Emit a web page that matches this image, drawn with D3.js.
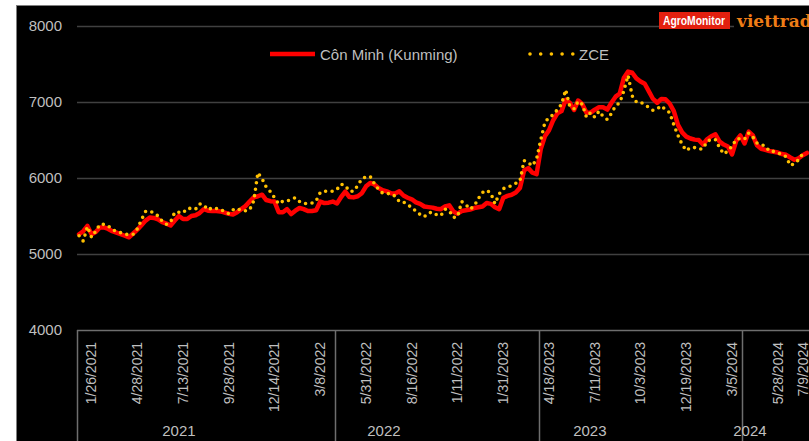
<!DOCTYPE html>
<html>
<head>
<meta charset="utf-8">
<script src="https://cdn.jsdelivr.net/npm/d3@7"></script>
<style>
  body { margin: 0; background: #ffffff; }
  svg { display: block; }
  text { font-family: "Liberation Sans", Arial, sans-serif; }
</style>
</head>
<body>
<div id="chart"></div>
<script>
// Côn Minh (Kunming) spot price vs ZCE futures, weekly
const kunming = [
  5260, 5300, 5370, 5260, 5290, 5350, 5350, 5330, 5300, 5280,
  5260, 5240, 5220, 5270, 5320, 5380, 5440, 5480, 5475, 5455,
  5420, 5400, 5375, 5440, 5500, 5460, 5460, 5500, 5510, 5540,
  5590, 5570, 5565, 5565, 5560, 5545, 5530, 5520, 5550, 5590,
  5630, 5690, 5745, 5760, 5780, 5710, 5695, 5690, 5550, 5550,
  5590, 5525, 5570, 5605, 5590, 5565, 5565, 5575, 5690, 5670,
  5675, 5690, 5665, 5750, 5820, 5750, 5745, 5760, 5800, 5890,
  5935, 5915, 5870, 5840, 5825, 5800, 5795, 5825, 5770, 5740,
  5720, 5680, 5660, 5625, 5617, 5610, 5595, 5590, 5625, 5640,
  5560, 5530, 5565, 5575, 5585, 5605, 5615, 5625, 5670, 5660,
  5615, 5590, 5740, 5765, 5780, 5810, 5870, 6100, 6130, 6070,
  6050, 6380, 6550, 6630, 6760, 6850, 6880, 7030, 6990, 6895,
  7020, 6970, 6860, 6860, 6900, 6930, 6930, 6900, 6990, 7070,
  7110, 7320, 7400, 7385, 7310, 7270, 7240, 7140, 7040, 6990,
  7040, 7035, 6980, 6880, 6700, 6600, 6545, 6520, 6505, 6500,
  6440, 6510, 6550, 6575, 6480, 6440, 6415, 6310, 6490, 6560,
  6455, 6610, 6560, 6430, 6385, 6370, 6355, 6345, 6335, 6315,
  6305, 6270, 6240, 6260, 6300, 6330
];

const zce = [
  5240, 5170, 5360, 5220, 5300, 5390, 5390, 5370, 5320, 5300,
  5280, 5265, 5250, 5260, 5330, 5450, 5560, 5565, 5540, 5500,
  5430, 5390, 5420, 5550, 5550, 5540, 5600, 5600, 5590, 5660,
  5645, 5580, 5610, 5600, 5590, 5555, 5530, 5580, 5600, 5570,
  5570, 5580, 5700, 6070, 5990, 5880, 5820, 5740, 5660, 5695,
  5695, 5720, 5740, 5690, 5665, 5665, 5670, 5700, 5810, 5826,
  5826, 5826, 5850, 5920, 5900, 5826, 5826, 5900, 5990, 6015,
  6020, 5926, 5850, 5800, 5795, 5795, 5760, 5690, 5685, 5640,
  5620, 5560, 5520, 5490, 5540, 5550, 5515, 5505, 5590, 5570,
  5480, 5490, 5690, 5650, 5590, 5630, 5730, 5810, 5840, 5800,
  5660, 5790, 5860, 5880, 5900, 5930, 5960, 6230, 6200, 6160,
  6250, 6500, 6730, 6800, 6830, 6900, 6970, 7160, 6940, 6910,
  7010, 6970, 6800, 6860, 6800, 6880, 6810, 6770, 6850, 6950,
  6990, 7150, 7350, 7080, 7000, 7000, 6960, 6930, 6890, 6910,
  6950, 6900, 6860, 6700, 6560, 6440, 6360, 6400, 6400, 6380,
  6385, 6480, 6510, 6505, 6400, 6315, 6355, 6420, 6510, 6520,
  6510, 6590, 6540, 6460, 6440, 6420, 6350, 6350, 6330, 6310,
  6280, 6165, 6190, 6240, 6320, 6330
];

// date labels shown on the axis, with the week (category) they sit on
const tickWeeks  = [3, 14, 25, 36, 47, 58, 69, 80, 91, 102, 113, 124, 135, 146, 157, 168, 174];
const tickLabels = ["1/26/2021", "4/28/2021", "7/13/2021", "9/28/2021", "12/14/2021", "3/8/2022",
                    "5/31/2022", "8/16/2022", "1/11/2022", "1/31/2023", "4/18/2023", "7/11/2023",
                    "10/3/2023", "12/19/2023", "3/5/2024", "5/28/2024", "7/9/2024"];

// year groups: first week of each group and the week its label is centred on
const years      = ["2021", "2022", "2023", "2024"];
const yearStart  = [0, 62, 111, 160];
const yearCenter = [24.5, 73.8, 123.3, 161.8];

const yTicks = [4000, 5000, 6000, 7000, 8000];

const W = 809, H = 441;
const margin = {top: 26, right: 0, bottom: 111, left: 77};
const nWeeks = kunming.length;

const svg = d3.select("#chart").append("svg")
    .attr("width", W)
    .attr("height", H);

// chart background
svg.append("rect")
    .attr("x", 16.5).attr("y", 5.5)
    .attr("width", W).attr("height", H)
    .attr("fill", "#000")
    .attr("stroke", "#7f7f7f")
    .attr("stroke-width", 1);

const x = d3.scaleBand()
    .domain(d3.range(nWeeks))
    .range([margin.left, W])
    .padding(0);

const y = d3.scaleLinear()
    .domain([4000, 8000])
    .range([H - margin.bottom, margin.top]);

const xc = i => x(i) + x.bandwidth() / 2;
// fractional category position (band scale only takes whole weeks)
const xAt = c => x(0) + c * x.step();

// gridlines + y labels
const yAxis = d3.axisLeft(y)
    .tickValues(yTicks)
    .tickSize(-(W - margin.left))
    .tickPadding(15)
    .tickFormat(d3.format("d"));

const gy = svg.append("g")
    .attr("transform", `translate(${margin.left},0)`)
    .call(yAxis);
gy.select(".domain").remove();
gy.selectAll(".tick line")
    .attr("stroke", d => d === 4000 ? "#6e6e6e" : "#404040")
    .attr("stroke-width", 1.5);
gy.selectAll(".tick text")
    .attr("fill", "#bfbfbf")
    .style("font-size", "15px");

// category axis box
const axisTop = y(4000);
const axisG = svg.append("g").attr("class", "x-axis");

axisG.selectAll(".sep")
    .data(yearStart)
    .enter()
    .append("line")
    .attr("class", "sep")
    .attr("x1", d => Math.round(x(d)) + 0.5)
    .attr("x2", d => Math.round(x(d)) + 0.5)
    .attr("y1", axisTop)
    .attr("y2", H)
    .attr("stroke", "#6e6e6e")
    .attr("stroke-width", 1.5);

axisG.selectAll(".date-label")
    .data(tickWeeks)
    .enter()
    .append("text")
    .attr("class", "date-label")
    .attr("transform", d => `translate(${xc(d)},${axisTop + 12}) rotate(-90)`)
    .attr("text-anchor", "end")
    .attr("dy", "0.35em")
    .attr("fill", "#bfbfbf")
    .style("font-size", "14px")
    .text((d, i) => tickLabels[i]);

axisG.selectAll(".year-label")
    .data(years)
    .enter()
    .append("text")
    .attr("class", "year-label")
    .attr("x", (d, i) => xAt(yearCenter[i]))
    .attr("y", 436)
    .attr("text-anchor", "middle")
    .attr("fill", "#bfbfbf")
    .style("font-size", "15px")
    .text(d => d);

// series
const line = d3.line()
    .x((d, i) => xc(i))
    .y(d => y(d));

svg.append("path")
    .datum(kunming)
    .attr("fill", "none")
    .attr("stroke", "#ff0000")
    .attr("stroke-width", 4.5)
    .attr("stroke-linejoin", "round")
    .attr("stroke-linecap", "round")
    .attr("d", line);

svg.append("path")
    .datum(zce)
    .attr("fill", "none")
    .attr("stroke", "#ffc000")
    .attr("stroke-width", 3.6)
    .attr("stroke-linecap", "round")
    .attr("stroke-dasharray", "0 6.5")
    .attr("d", line);

// legend
const legend = svg.append("g").attr("class", "legend");
legend.append("line")
    .attr("x1", 270).attr("x2", 315)
    .attr("y1", 54).attr("y2", 54)
    .attr("stroke", "#ff0000")
    .attr("stroke-width", 4.5);
legend.append("text")
    .attr("x", 320).attr("y", 59.5)
    .attr("fill", "#bfbfbf")
    .style("font-size", "15px")
    .text("Côn Minh (Kunming)");
legend.append("line")
    .attr("x1", 530).attr("x2", 573)
    .attr("y1", 54).attr("y2", 54)
    .attr("stroke", "#ffc000")
    .attr("stroke-width", 3.6)
    .attr("stroke-linecap", "round")
    .attr("stroke-dasharray", "0 10.7");
legend.append("text")
    .attr("x", 579).attr("y", 59.5)
    .attr("fill", "#bfbfbf")
    .style("font-size", "15px")
    .text("ZCE");

// logo
const logo = svg.append("g").attr("class", "logo");
logo.append("rect")
    .attr("x", 734).attr("y", 10)
    .attr("width", 80).attr("height", 22)
    .attr("fill", "#000");
logo.append("rect")
    .attr("x", 659).attr("y", 12)
    .attr("width", 71).attr("height", 17)
    .attr("fill", "#e3200f");
logo.append("text")
    .attr("x", 663).attr("y", 25)
    .attr("fill", "#fff")
    .attr("textLength", 62)
    .attr("lengthAdjust", "spacingAndGlyphs")
    .style("font-size", "12px")
    .style("font-weight", "bold")
    .text("AgroMonitor");
logo.append("text")
    .attr("x", 737).attr("y", 27)
    .attr("fill", "#ef7d16")
    .style("font-family", "'DejaVu Serif', 'Liberation Serif', serif")
    .style("font-size", "17px")
    .style("font-weight", "bold")
    .text("viettrade");
</script>
</body>
</html>
